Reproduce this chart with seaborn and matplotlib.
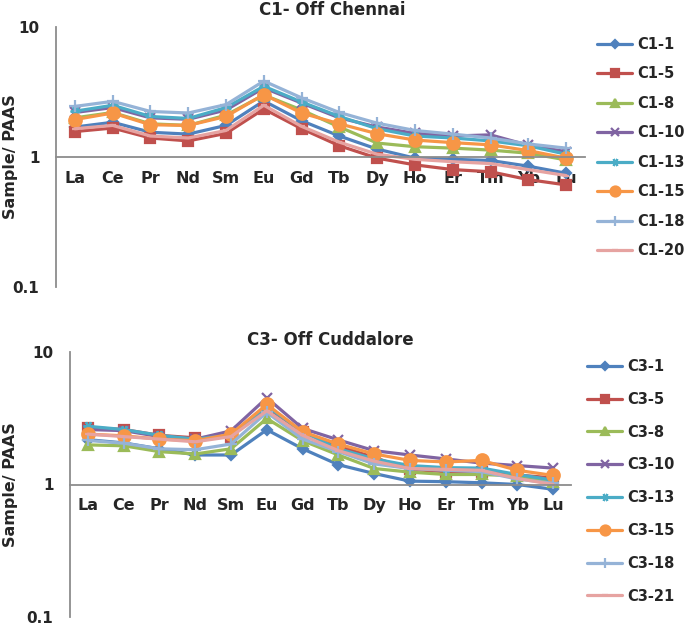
import matplotlib
matplotlib.use("Agg")
import matplotlib.pyplot as plt
import seaborn as sns
import pandas as pd
import numpy as np

elements = ["La", "Ce", "Pr", "Nd", "Sm", "Eu", "Gd", "Tb", "Dy", "Ho", "Er", "Tm", "Yb", "Lu"]

# C1 - Off Chennai
c1_names = ["C1-1", "C1-5", "C1-8", "C1-10", "C1-13", "C1-15", "C1-18", "C1-20"]
c1_1 = [1.70, 1.85, 1.55, 1.50, 1.75, 2.70, 1.90, 1.45, 1.15, 0.98, 0.96, 0.94, 0.85, 0.75]
c1_5 = [1.57, 1.67, 1.40, 1.33, 1.52, 2.34, 1.65, 1.22, 0.98, 0.87, 0.80, 0.77, 0.67, 0.61]
c1_8 = [2.00, 2.20, 1.80, 1.75, 2.10, 3.00, 2.30, 1.70, 1.28, 1.20, 1.17, 1.13, 1.07, 0.95]
c1_10 = [2.20, 2.40, 2.00, 1.95, 2.30, 3.40, 2.60, 2.00, 1.70, 1.52, 1.45, 1.48, 1.23, 1.10]
c1_13 = [2.25, 2.50, 2.05, 1.98, 2.40, 3.50, 2.65, 2.05, 1.65, 1.45, 1.40, 1.33, 1.22, 1.05]
c1_15 = [1.94, 2.18, 1.77, 1.75, 2.05, 3.02, 2.18, 1.80, 1.51, 1.35, 1.29, 1.24, 1.12, 0.98]
c1_18 = [2.45, 2.68, 2.24, 2.18, 2.53, 3.84, 2.85, 2.20, 1.82, 1.60, 1.50, 1.40, 1.26, 1.17]
c1_20 = [1.65, 1.75, 1.45, 1.40, 1.60, 2.50, 1.72, 1.30, 1.05, 0.96, 0.92, 0.89, 0.80, 0.72]

# C3 - Off Cuddalore
c3_names = ["C3-1", "C3-5", "C3-8", "C3-10", "C3-13", "C3-15", "C3-18", "C3-21"]
c3_1 = [2.18, 2.06, 1.86, 1.67, 1.67, 2.59, 1.86, 1.41, 1.21, 1.06, 1.05, 1.03, 1.00, 0.92]
c3_5 = [2.69, 2.60, 2.35, 2.25, 2.30, 3.80, 2.50, 1.95, 1.60, 1.30, 1.25, 1.25, 1.18, 1.12]
c3_8 = [1.99, 1.96, 1.77, 1.70, 1.86, 3.15, 2.14, 1.67, 1.32, 1.24, 1.19, 1.19, 1.16, 1.05]
c3_10 = [2.60, 2.55, 2.30, 2.20, 2.54, 4.51, 2.65, 2.17, 1.80, 1.67, 1.56, 1.45, 1.39, 1.33]
c3_13 = [2.75, 2.60, 2.35, 2.20, 2.35, 3.90, 2.50, 1.86, 1.56, 1.39, 1.34, 1.33, 1.19, 1.08]
c3_15 = [2.40, 2.33, 2.20, 2.14, 2.40, 4.02, 2.50, 2.02, 1.70, 1.52, 1.48, 1.52, 1.28, 1.17]
c3_18 = [2.15, 2.05, 1.86, 1.83, 2.02, 3.50, 2.20, 1.77, 1.43, 1.32, 1.28, 1.25, 1.10, 1.02]
c3_21 = [2.40, 2.30, 2.20, 2.10, 2.30, 3.60, 2.35, 1.80, 1.50, 1.32, 1.30, 1.28, 1.11, 1.00]

c1_series = [c1_1, c1_5, c1_8, c1_10, c1_13, c1_15, c1_18, c1_20]
c3_series = [c3_1, c3_5, c3_8, c3_10, c3_13, c3_15, c3_18, c3_21]

colors = ["#4F81BD", "#C0504D", "#9BBB59", "#8064A2", "#4BACC6", "#F79646", "#95B3D7", "#E6A3A1"]
markers = ["D", "s", "^", "x", (6, 2, 90), "o", "+", "_"]
msizes = [5.5, 6.5, 7, 7, 7, 9, 9, 5]

W, H = 685, 627
fig = plt.figure(figsize=(W / 100, H / 100), dpi=100)
sns.set_style("white")
plt.rcParams["font.family"] = ["DejaVu Sans"]

GRAY = "#8C8C8C"


def make_df(names, series):
    rows = []
    for n, s in zip(names, series):
        for i, (e, v) in enumerate(zip(elements, s)):
            rows.append({"sample": n, "pos": i, "element": e, "value": v})
    return pd.DataFrame(rows)


def panel(rect, names, series, title, title_xy, ylab_x, leg_anchor, leg_spacing):
    ax = fig.add_axes(rect)
    df = make_df(names, series)
    sns.lineplot(data=df, x="pos", y="value", hue="sample",
                 hue_order=names, palette=dict(zip(names, colors)),
                 sort=False, lw=2.3, legend=False, ax=ax)
    for line, mk, ms in zip(ax.lines, markers, msizes):
        c = line.get_color()
        line.set_marker(mk)
        line.set_markersize(ms)
        line.set_markeredgecolor(c)
        line.set_markerfacecolor(c)
        line.set_markeredgewidth(1.6)
    ax.set_yscale("log")
    ax.set_ylim(0.1, 10)
    ax.set_xlim(-0.5, len(elements) - 0.5)
    ax.set_yticks([0.1, 1, 10])
    ax.set_yticklabels(["0.1", "1", "10"])
    ax.yaxis.set_minor_locator(matplotlib.ticker.NullLocator())
    ax.set_xticks(range(len(elements)))
    ax.set_xticklabels(elements)
    for sp in ["top", "right"]:
        ax.spines[sp].set_visible(False)
    ax.spines["bottom"].set_position(("data", 1))
    ax.spines["bottom"].set_color(GRAY)
    ax.spines["left"].set_color(GRAY)
    ax.spines["bottom"].set_linewidth(1.3)
    ax.spines["left"].set_linewidth(1.3)
    ax.tick_params(axis="x", length=4, color=GRAY, width=1, pad=6,
                   labelsize=11.5)
    ax.tick_params(axis="y", length=0, pad=12, labelsize=11)
    for t in ax.get_xticklabels() + ax.get_yticklabels():
        t.set_fontweight("bold")
    ax.set_xlabel("")
    ax.set_ylabel("Sample/ PAAS", fontsize=11.5, fontweight="bold")
    ax.yaxis.set_label_coords(ylab_x, 0.5)
    fig.text(title_xy[0] / W, 1 - title_xy[1] / H, title, ha="center",
             va="baseline", fontsize=12, fontweight="bold")
    ax.legend(ax.lines, names, loc="upper left",
              bbox_to_anchor=(leg_anchor[0] / W, 1 - leg_anchor[1] / H),
              bbox_transform=fig.transFigure, frameon=False,
              borderpad=0, borderaxespad=0, handlelength=2.4,
              handletextpad=0.35, labelspacing=leg_spacing,
              markerscale=0.8, prop={"weight": "bold", "size": 10.5})
    return ax


# top panel: axis x 56..585, y 27 (10) .. 287 (0.1)
panel([56 / W, 1 - 287 / H, 529 / W, 260 / H], c1_names, c1_series,
      "C1- Off Chennai", (332, 15), (18 - 56) / 529, (597, 37), 0.99)
# bottom panel: axis x 70..571, y 352 (10) .. 617 (0.1)
panel([70 / W, 1 - 617 / H, 501 / W, 265 / H], c3_names, c3_series,
      "C3- Off Cuddalore", (330, 345), (18 - 70) / 501, (587, 359), 1.22)

fig.savefig("out.png", dpi=100)
